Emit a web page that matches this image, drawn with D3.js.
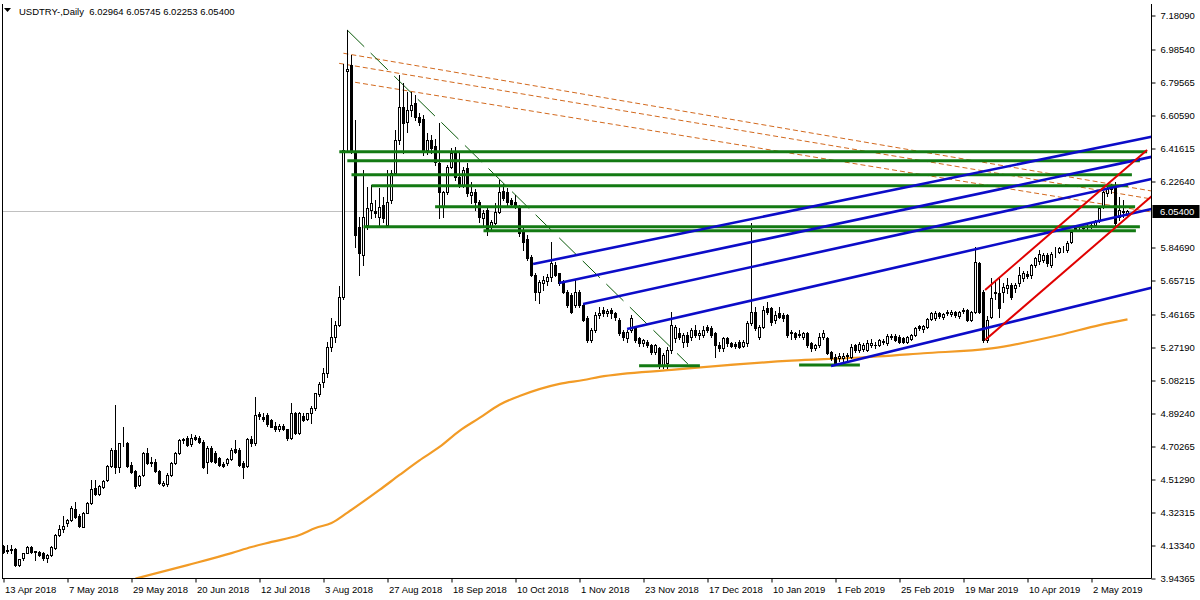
<!DOCTYPE html>
<html><head><meta charset="utf-8">
<script src="https://cdn.jsdelivr.net/npm/d3@7"></script>
<style>body{margin:0;background:#fff;} svg{display:block;}</style>
</head><body><svg id="c" width="1200" height="600"></svg>
<script>
// ---- DATA ----
const symbolTitle = "USDTRY-,Daily";
const titleQuote = ["6.02964", "6.05745", "6.02253", "6.05400"];
// daily bars from 13 Apr 2018, [open, high, low, close]
const candles = [
[4.125,4.135,4.085,4.095],[4.10,4.135,4.09,4.105],[4.105,4.135,4.085,4.11],[4.108,4.115,4.015,4.018],[4.02,4.055,4.015,4.051],
[4.057,4.09,4.05,4.085],[4.089,4.125,4.085,4.12],[4.124,4.13,4.09,4.095],[4.095,4.10,4.047,4.097],[4.095,4.10,4.07,4.076],
[4.089,4.095,4.05,4.057],[4.061,4.08,4.038,4.076],[4.076,4.13,4.07,4.12],[4.114,4.195,4.11,4.191],[4.191,4.25,4.185,4.224],
[4.224,4.30,4.21,4.243],[4.258,4.285,4.245,4.277],[4.277,4.355,4.27,4.348],[4.338,4.383,4.29,4.296],[4.30,4.31,4.235,4.243],
[4.239,4.325,4.235,4.319],[4.319,4.38,4.315,4.373],[4.377,4.507,4.37,4.454],[4.459,4.51,4.42,4.425],[4.425,4.48,4.42,4.473],
[4.469,4.51,4.46,4.503],[4.507,4.592,4.50,4.588],[4.588,4.69,4.58,4.68],[4.68,4.938,4.549,4.584],[4.584,4.722,4.555,4.718],
[4.718,4.81,4.70,4.72],[4.72,4.725,4.58,4.588],[4.593,4.61,4.55,4.555],[4.559,4.565,4.46,4.473],[4.478,4.535,4.47,4.53],
[4.536,4.67,4.53,4.664],[4.66,4.69,4.60,4.603],[4.613,4.64,4.59,4.603],[4.613,4.63,4.555,4.559],[4.559,4.565,4.485,4.492],
[4.478,4.50,4.47,4.492],[4.482,4.55,4.475,4.536],[4.536,4.61,4.53,4.603],[4.603,4.67,4.60,4.66],[4.66,4.745,4.655,4.737],
[4.737,4.75,4.72,4.741],[4.751,4.76,4.70,4.708],[4.714,4.77,4.70,4.751],[4.756,4.765,4.74,4.745],[4.751,4.76,4.72,4.728],
[4.728,4.735,4.575,4.58],[4.613,4.70,4.545,4.689],[4.689,4.70,4.61,4.618],[4.664,4.675,4.605,4.613],[4.632,4.64,4.59,4.593],
[4.599,4.61,4.58,4.588],[4.603,4.635,4.595,4.626],[4.626,4.69,4.62,4.68],[4.684,4.737,4.665,4.67],[4.68,4.69,4.59,4.593],
[4.607,4.615,4.52,4.584],[4.588,4.75,4.58,4.741],[4.745,4.76,4.70,4.718],[4.718,4.983,4.71,4.881],[4.887,4.90,4.86,4.875],
[4.871,4.89,4.845,4.856],[4.881,4.89,4.82,4.829],[4.852,4.86,4.81,4.814],[4.818,4.84,4.79,4.799],[4.80,4.83,4.79,4.818],
[4.818,4.83,4.795,4.799],[4.799,4.80,4.74,4.747],[4.751,4.948,4.745,4.894],[4.894,4.90,4.77,4.779],[4.779,4.90,4.77,4.894],
[4.875,4.89,4.845,4.852],[4.856,4.895,4.85,4.891],[4.891,4.93,4.837,4.919],[4.919,5.01,4.91,5.006],[5.00,5.07,4.99,5.06],
[5.07,5.15,5.04,5.12],[5.12,5.30,5.10,5.27],[5.27,5.44,5.25,5.33],[5.33,5.42,5.30,5.40],[5.40,5.62,5.39,5.56],
[5.56,6.90,5.55,6.405],[6.86,7.095,6.40,6.87],[6.894,6.951,6.39,6.395],[6.395,6.577,5.849,5.916],[5.964,6.021,5.686,5.811],
[5.801,6.29,5.744,6.021],[5.974,6.194,5.95,6.069],[6.059,6.203,6.012,6.098],[6.056,6.12,6.02,6.041],[6.021,6.184,5.974,6.079],
[6.089,6.136,5.99,6.012],[5.974,6.29,5.96,6.108],[6.117,6.29,6.10,6.271],[6.271,6.52,6.26,6.462],[6.462,6.836,6.44,6.654],
[6.654,6.788,6.386,6.558],[6.568,6.74,6.51,6.635],[6.635,6.74,6.60,6.664],[6.673,6.72,6.58,6.596],[6.596,6.62,6.55,6.568],
[6.581,6.606,6.376,6.405],[6.405,6.50,6.38,6.462],[6.462,6.49,6.39,6.414],[6.428,6.47,6.32,6.338],[6.328,6.558,6.012,6.165],
[6.079,6.17,6.021,6.165],[6.165,6.318,6.15,6.309],[6.309,6.414,6.30,6.386],[6.386,6.424,6.23,6.251],[6.251,6.386,6.19,6.204],
[6.204,6.309,6.19,6.29],[6.299,6.328,6.14,6.156],[6.146,6.222,6.10,6.165],[6.165,6.18,6.06,6.108],[6.108,6.12,5.99,6.021],
[6.012,6.06,5.97,6.044],[6.06,6.07,5.916,5.945],[5.964,6.0,5.94,5.993],[5.987,6.098,5.98,6.05],[6.05,6.232,6.04,6.165],
[6.171,6.21,6.12,6.127],[6.165,6.184,6.09,6.108],[6.117,6.13,6.08,6.094],[6.108,6.146,6.07,6.079],[6.079,6.09,5.91,5.926],
[5.945,5.96,5.83,5.878],[5.891,5.916,5.77,5.782],[5.792,5.80,5.68,5.686],[5.686,5.70,5.542,5.59],[5.59,5.66,5.523,5.648],
[5.642,5.68,5.60,5.657],[5.653,5.69,5.63,5.676],[5.676,5.878,5.65,5.753],[5.744,5.76,5.68,5.686],[5.696,5.70,5.63,5.638],
[5.648,5.66,5.585,5.59],[5.59,5.60,5.50,5.514],[5.571,5.58,5.47,5.475],[5.514,5.657,5.50,5.59],[5.59,5.60,5.50,5.514],
[5.514,5.52,5.42,5.427],[5.437,5.45,5.30,5.312],[5.312,5.38,5.30,5.37],[5.37,5.475,5.36,5.456],[5.456,5.50,5.44,5.466],
[5.485,5.50,5.45,5.466],[5.466,5.49,5.45,5.48],[5.485,5.495,5.44,5.466],[5.466,5.475,5.43,5.446],[5.427,5.44,5.34,5.351],
[5.36,5.37,5.31,5.331],[5.322,5.37,5.30,5.36],[5.37,5.456,5.36,5.437],[5.379,5.39,5.30,5.312],[5.322,5.33,5.28,5.293],
[5.297,5.32,5.28,5.312],[5.303,5.31,5.27,5.284],[5.284,5.29,5.23,5.245],[5.245,5.29,5.23,5.284],[5.264,5.27,5.149,5.169],
[5.169,5.24,5.15,5.226],[5.178,5.27,5.15,5.255],[5.255,5.475,5.24,5.399],[5.322,5.40,5.30,5.389],[5.351,5.38,5.32,5.331],
[5.303,5.35,5.27,5.341],[5.341,5.36,5.28,5.303],[5.331,5.38,5.31,5.37],[5.37,5.40,5.33,5.341],[5.341,5.37,5.32,5.351],
[5.341,5.39,5.33,5.37],[5.389,5.40,5.36,5.37],[5.379,5.39,5.33,5.341],[5.351,5.36,5.216,5.284],[5.284,5.30,5.25,5.264],
[5.264,5.33,5.25,5.322],[5.322,5.33,5.28,5.293],[5.293,5.30,5.27,5.278],[5.29,5.30,5.265,5.278],[5.303,5.31,5.265,5.274],
[5.278,5.31,5.27,5.303],[5.293,5.42,5.28,5.408],[5.408,5.983,5.40,5.475],[5.475,5.50,5.37,5.379],[5.331,5.40,5.32,5.389],
[5.389,5.51,5.38,5.485],[5.494,5.53,5.46,5.475],[5.494,5.50,5.40,5.418],[5.427,5.48,5.41,5.456],[5.466,5.50,5.44,5.446],
[5.456,5.47,5.42,5.437],[5.456,5.46,5.33,5.341],[5.36,5.37,5.32,5.351],[5.35,5.36,5.32,5.331],[5.345,5.37,5.33,5.341],
[5.328,5.36,5.32,5.351],[5.354,5.36,5.27,5.283],[5.293,5.30,5.25,5.264],[5.264,5.29,5.255,5.283],[5.283,5.351,5.27,5.331],
[5.331,5.37,5.32,5.351],[5.322,5.33,5.23,5.236],[5.245,5.25,5.20,5.207],[5.217,5.23,5.168,5.175],[5.21,5.24,5.19,5.22],
[5.207,5.24,5.19,5.22],[5.22,5.24,5.19,5.226],[5.217,5.29,5.21,5.274],[5.283,5.29,5.245,5.255],[5.255,5.30,5.245,5.289],
[5.26,5.295,5.25,5.283],[5.255,5.31,5.25,5.293],[5.283,5.32,5.27,5.293],[5.285,5.30,5.265,5.283],[5.283,5.32,5.275,5.312],
[5.303,5.32,5.29,5.306],[5.293,5.345,5.285,5.335],[5.335,5.345,5.32,5.33],[5.335,5.345,5.305,5.312],[5.331,5.34,5.295,5.303],
[5.322,5.33,5.295,5.303],[5.303,5.335,5.295,5.328],[5.316,5.345,5.31,5.341],[5.341,5.385,5.335,5.379],[5.393,5.40,5.37,5.379],
[5.374,5.40,5.36,5.393],[5.389,5.44,5.38,5.431],[5.431,5.475,5.425,5.466],[5.437,5.48,5.43,5.469],[5.466,5.475,5.44,5.45],
[5.443,5.47,5.435,5.462],[5.475,5.485,5.455,5.466],[5.462,5.485,5.45,5.475],[5.475,5.48,5.445,5.456],[5.45,5.48,5.44,5.475],
[5.48,5.495,5.47,5.485],[5.485,5.49,5.42,5.427],[5.427,5.48,5.42,5.475],[5.475,5.849,5.47,5.763],[5.753,5.76,5.47,5.475],
[5.59,5.60,5.30,5.312],[5.312,5.45,5.30,5.427],[5.446,5.667,5.44,5.552],[5.58,5.657,5.55,5.59],[5.58,5.667,5.446,5.494],
[5.59,5.64,5.53,5.619],[5.609,5.667,5.58,5.628],[5.628,5.64,5.55,5.561],[5.609,5.64,5.59,5.628],[5.638,5.734,5.62,5.686],
[5.667,5.71,5.65,5.696],[5.692,5.71,5.67,5.68],[5.686,5.75,5.67,5.743],[5.743,5.79,5.73,5.782],[5.768,5.83,5.75,5.805],
[5.772,5.81,5.76,5.801],[5.801,5.81,5.74,5.753],[5.743,5.82,5.73,5.807],[5.81,5.849,5.79,5.814],[5.82,5.845,5.81,5.839],
[5.834,5.85,5.82,5.836],[5.83,5.88,5.82,5.872],[5.878,5.94,5.87,5.935],[5.95,5.965,5.94,5.954],[5.954,5.97,5.94,5.956],
[5.956,5.975,5.945,5.96],[5.96,5.98,5.95,5.968],[5.968,5.985,5.955,5.973],[5.973,6.0,5.965,5.993],[6.002,6.08,5.99,6.069],
[6.079,6.17,6.07,6.165],[6.156,6.19,6.14,6.179],[6.179,6.21,6.16,6.19],[6.204,6.22,5.97,5.983],[6.021,6.137,6.0,6.06],
[6.056,6.118,6.02,6.05],[6.02964,6.05745,6.02253,6.054]
];
const dateLabels = ["13 Apr 2018","7 May 2018","29 May 2018","20 Jun 2018","12 Jul 2018","3 Aug 2018","27 Aug 2018",
  "18 Sep 2018","10 Oct 2018","1 Nov 2018","23 Nov 2018","17 Dec 2018","10 Jan 2019","1 Feb 2019","25 Feb 2019",
  "19 Mar 2019","10 Apr 2019","2 May 2019"];
const dateLabelBars = [0,16,32,48,64,80,96,112,128,144,160,176,192,208,224,240,256,272];
const priceTicks = [7.18090,6.98540,6.79565,6.60590,6.41615,6.22640,5.84690,5.65715,5.46165,5.27190,5.08215,4.89240,4.70265,4.51290,4.32315,4.13340,3.94365];
const lastPrice = 6.05400;
// moving average: [bar, value]
const maPoints = [[33,3.94],[46,4.018],[57,4.087],[62,4.122],[67,4.151],[74,4.191],[78,4.231],[82,4.26],[86,4.32],[94,4.45],
  [99,4.536],[104,4.62],[109,4.697],[114,4.79],[119,4.864],[124,4.94],[129,4.99],[139,5.06],[145,5.082],[149,5.10],
  [167,5.14],[197,5.193],[213,5.21],[230,5.236],[247,5.264],[264,5.341],[274,5.398],[281,5.431]];
// horizontal levels: [price, fromBar, toBar]
const greenLevels = [[6.395,83.95,285.9],[6.343,85.95,284.1],[6.263,87,282.1],[6.199,92,281.1],[6.079,107.9,282.9],
  [5.964,90,284.1],[5.941,120,283.1],[5.164,158.9,174.1],[5.168,198.9,214.1]];
// trend lines: [bar1, price1, bar2, price2]
const blueLines = [[132.4,5.749,287,6.481],[138.9,5.640,287,6.365],[144.9,5.519,287,6.238],[155.9,5.375,287,6.066],[206.9,5.163,287,5.612]];
const redLines = [[245.4,5.600,285.9,6.405],[245.4,5.312,287.1,6.140]];
const brownDashed = [[84.98,6.961,287,6.169],[83.9,6.903,287,6.123],[87.9,6.794,287,6.048]];
const greenDashed = [[85.9,7.095,171.1,5.174]];

// ---- DRAW ----
const svg = d3.select("#c");
const W = 1200, H = 600;
const plot = {left: 2, top: 4, right: 1151.5, bottom: 578.5};
const font = "'Liberation Sans', Arial, sans-serif";

const x = d3.scaleLinear().domain([0, 287]).range([3.5, 1151.5]);
const y = d3.scaleLinear().domain([3.94365, 7.18090]).range([578, 15]);

svg.append("rect").attr("width", W).attr("height", H).attr("fill", "#fff");
svg.append("defs").append("clipPath").attr("id", "clip")
  .append("rect").attr("x", plot.left).attr("y", plot.top)
  .attr("width", plot.right - plot.left).attr("height", plot.bottom - plot.top);

const g = svg.append("g").attr("clip-path", "url(#clip)");

// bid line
g.append("line").attr("x1", plot.left).attr("x2", plot.right)
  .attr("y1", Math.round(y(lastPrice)) + 0.5).attr("y2", Math.round(y(lastPrice)) + 0.5)
  .attr("stroke", "#c0c0c0").attr("stroke-width", 1);

// moving average
g.append("path").datum(maPoints)
  .attr("d", d3.line().x(d => x(d[0])).y(d => y(d[1])).curve(d3.curveMonotoneX))
  .attr("fill", "none").attr("stroke", "#f29b26").attr("stroke-width", 2.2);

// brown dashed lines
g.selectAll(".brown").data(brownDashed).join("line")
  .attr("x1", d => x(d[0])).attr("y1", d => y(d[1])).attr("x2", d => x(d[2])).attr("y2", d => y(d[3]))
  .attr("stroke", "#d2691e").attr("stroke-width", 1).attr("stroke-dasharray", "5,3");

// green dashed downtrend
g.selectAll(".gdash").data(greenDashed).join("line")
  .attr("x1", d => x(d[0])).attr("y1", d => y(d[1])).attr("x2", d => x(d[2])).attr("y2", d => y(d[3]))
  .attr("stroke", "#0a5a0a").attr("stroke-width", 1).attr("stroke-dasharray", "24,9");

// candles
const wicks = g.append("g");
const bodies = g.append("g");
candles.forEach((c, i) => {
  const cx = Math.round(x(i) - 0.5) + 0.5;
  const [o, h, l, cl] = c;
  wicks.append("line").attr("x1", cx).attr("x2", cx)
    .attr("y1", Math.round(y(h))).attr("y2", Math.round(y(l)) + 1)
    .attr("stroke", "#000").attr("stroke-width", 1);
  const top = Math.round(y(Math.max(o, cl))), bot = Math.round(y(Math.min(o, cl)));
  const hgt = Math.max(0, bot - top);
  if (cl >= o) {
    bodies.append("rect").attr("x", cx - 1).attr("y", top + 0.5).attr("width", 2).attr("height", hgt)
      .attr("fill", "#fff").attr("stroke", "#000").attr("stroke-width", 1);
  } else {
    bodies.append("rect").attr("x", cx - 1.5).attr("y", top).attr("width", 3).attr("height", Math.max(1, hgt + 1))
      .attr("fill", "#000");
  }
});

// green horizontal levels
g.selectAll(".lvl").data(greenLevels).join("line")
  .attr("x1", d => x(d[1])).attr("x2", d => x(d[2]))
  .attr("y1", d => y(d[0])).attr("y2", d => y(d[0]))
  .attr("stroke", "#137a13").attr("stroke-width", 3);

// blue lines
g.selectAll(".blue").data(blueLines).join("line")
  .attr("x1", d => x(d[0])).attr("y1", d => y(d[1])).attr("x2", d => x(d[2])).attr("y2", d => y(d[3]))
  .attr("stroke", "#0c0cc8").attr("stroke-width", 2.6);

// red channel
g.selectAll(".red").data(redLines).join("line")
  .attr("x1", d => x(d[0])).attr("y1", d => y(d[1])).attr("x2", d => x(d[2])).attr("y2", d => y(d[3]))
  .attr("stroke", "#e00000").attr("stroke-width", 2);

// frame
svg.append("path")
  .attr("d", `M${plot.left + 0.5},${plot.bottom} V${plot.top} `)
  .attr("stroke", "#000").attr("fill", "none");
svg.append("line").attr("x1", plot.left).attr("x2", plot.right).attr("y1", plot.bottom).attr("y2", plot.bottom)
  .attr("stroke", "#000");
svg.append("line").attr("x1", plot.right).attr("x2", plot.right).attr("y1", plot.top).attr("y2", plot.bottom)
  .attr("stroke", "#000");

// right price axis
const ya = svg.append("g").attr("transform", `translate(${plot.right},0)`)
  .call(d3.axisRight(y).tickValues(priceTicks).tickSize(4).tickPadding(5).tickFormat(d => d.toFixed(5)));
ya.select(".domain").remove();
ya.selectAll("line").attr("stroke", "#000").attr("transform", "translate(0,0.5)");
ya.selectAll("text").attr("font-family", font).attr("font-size", 9.5).attr("fill", "#000");

// bottom time axis
const xa = svg.append("g").attr("transform", `translate(0,${plot.bottom})`)
  .call(d3.axisBottom(x).tickValues(dateLabelBars).tickSize(4).tickFormat((d, i) => dateLabels[i]));
xa.select(".domain").remove();
xa.selectAll("line").attr("stroke", "#000");
xa.selectAll("text").attr("font-family", font).attr("font-size", 9.5).attr("fill", "#000")
  .attr("text-anchor", "start").attr("x", 1).attr("y", 8).attr("dy", "0.71em");

// last price label
const ly = Math.round(y(lastPrice));
svg.append("rect").attr("x", plot.right + 1).attr("y", ly - 6).attr("width", 47).attr("height", 13).attr("fill", "#000");
svg.append("text").attr("x", plot.right + 8.5).attr("y", ly + 4).text(lastPrice.toFixed(5))
  .attr("font-family", font).attr("font-size", 9.5).attr("fill", "#fff");

// title
svg.append("path").attr("d", "M4,8 L11,8 L7.5,12 Z").attr("fill", "#000");
svg.append("text").attr("x", 19).attr("y", 14.5).attr("font-family", font).attr("font-size", 9.5)
  .attr("fill", "#000").style("white-space", "pre")
  .text(symbolTitle + "  " + titleQuote.join(" "));
</script>
</body></html>
